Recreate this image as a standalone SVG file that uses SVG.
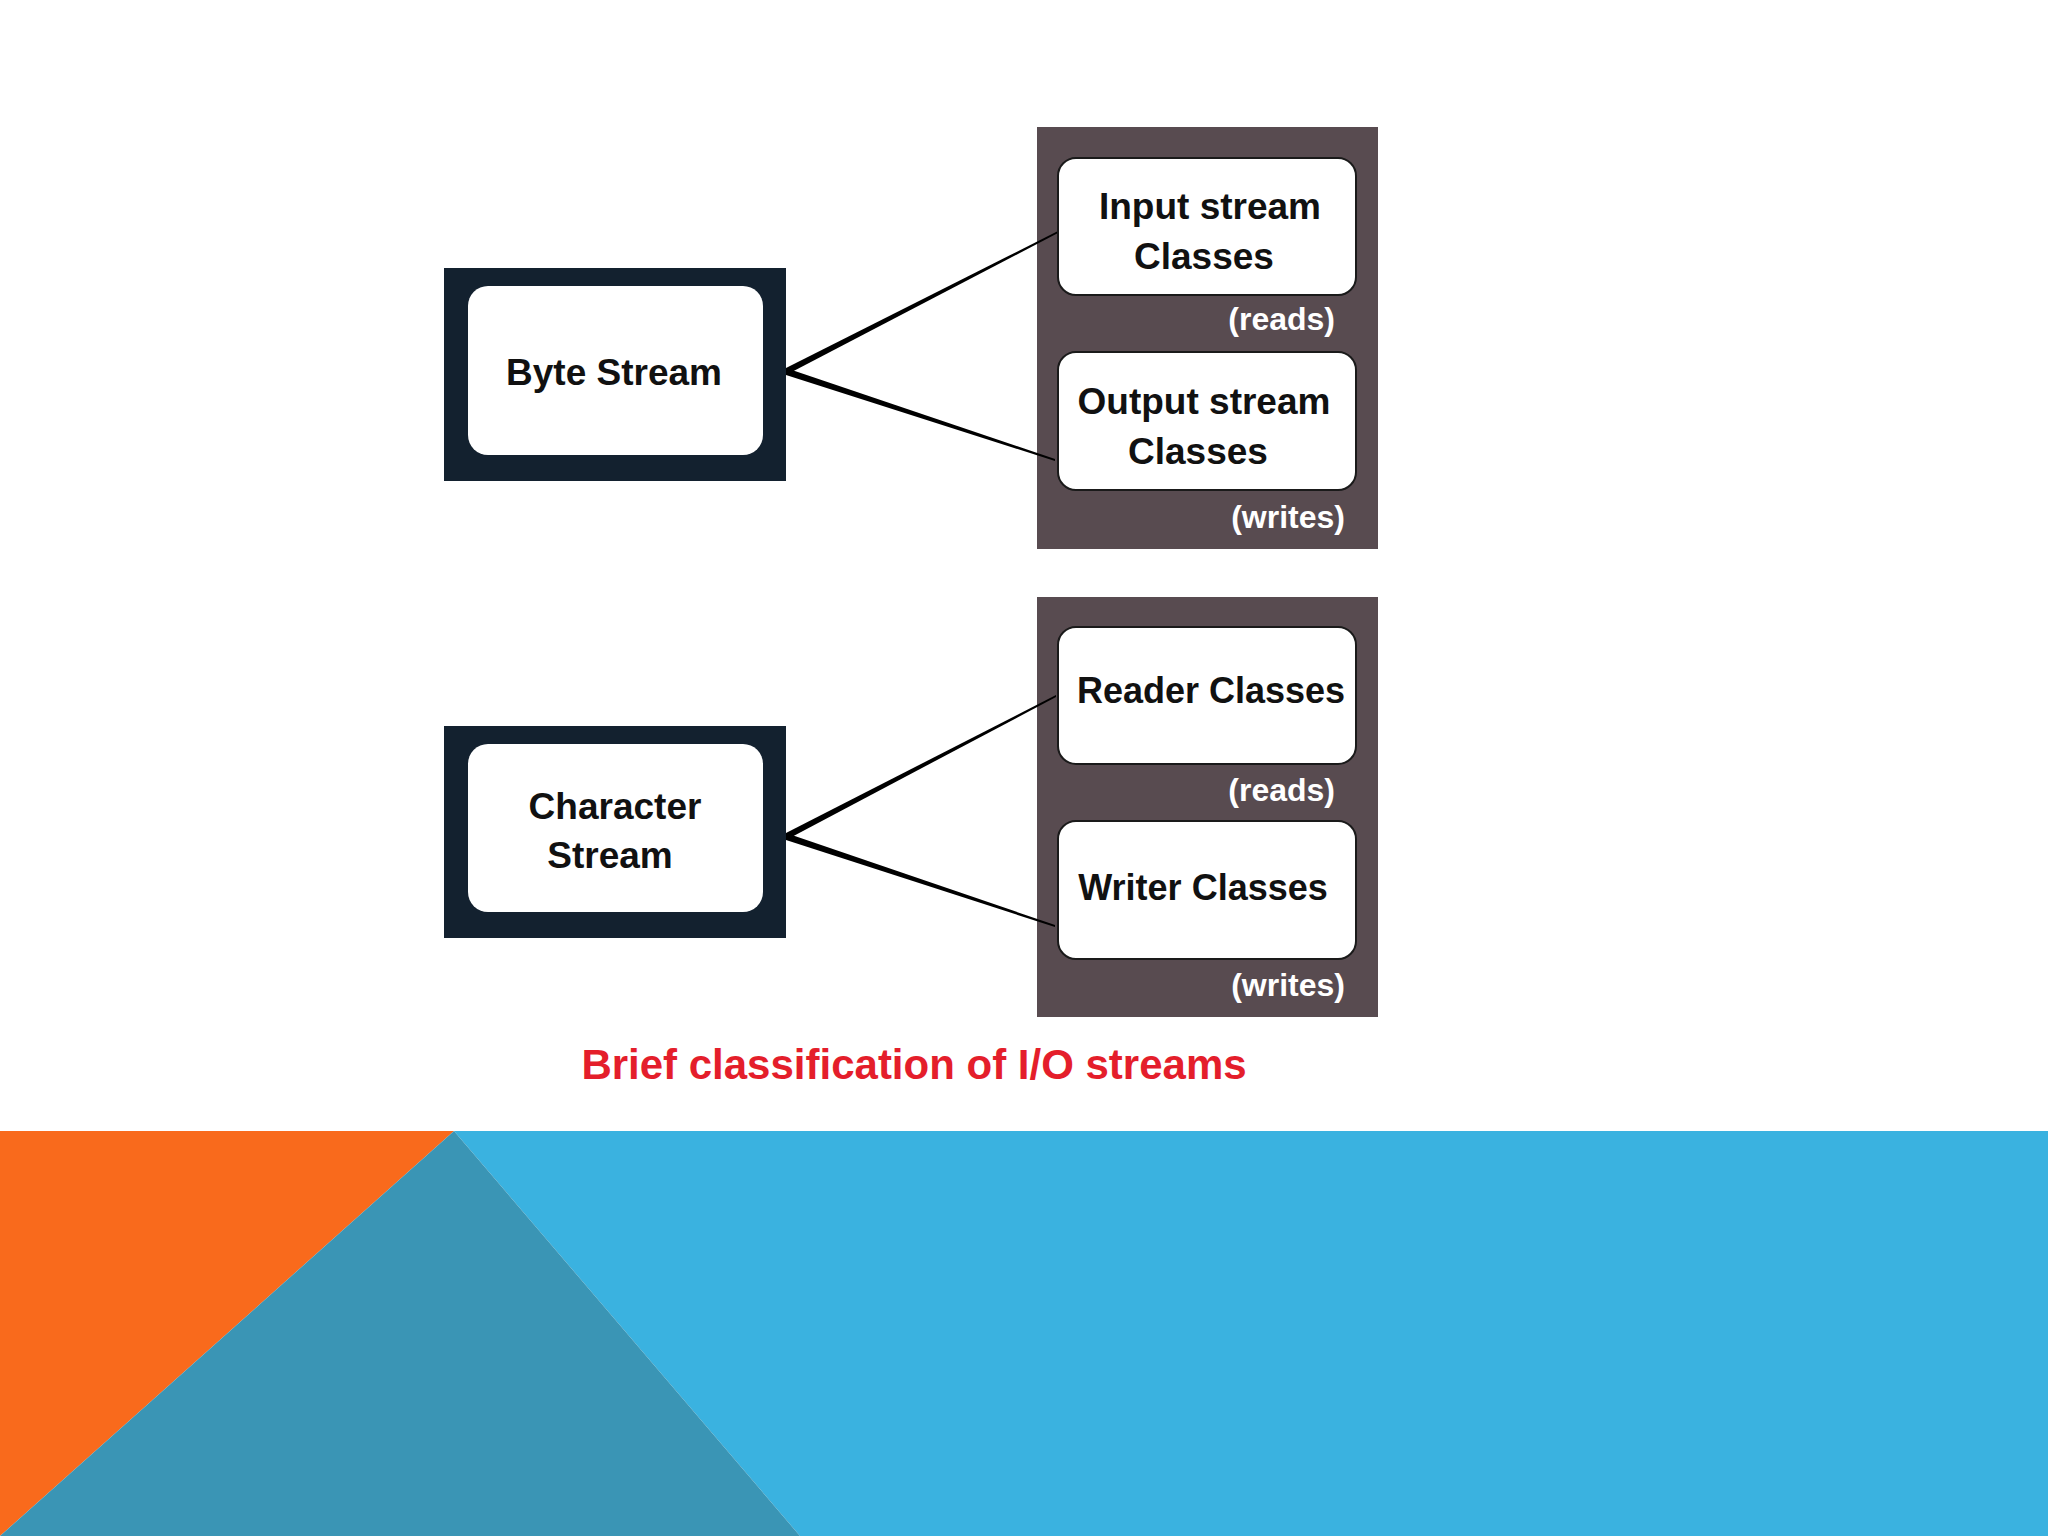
<svg xmlns="http://www.w3.org/2000/svg" width="2048" height="1536" viewBox="0 0 2048 1536">
<style>
.outer{fill:#13212F}
.inner{fill:#FFFFFF}
.panel{fill:#584B50}
.cls{fill:#FFFFFF;stroke:#1A1A1A;stroke-width:2}
.t{font-family:"Liberation Sans",Arial,sans-serif;font-weight:bold;font-size:37px;fill:#111111;text-anchor:middle}
.note{font-family:"Liberation Sans",Arial,sans-serif;font-weight:bold;font-size:32px;fill:#FFFFFF;text-anchor:end}
.cap{font-family:"Liberation Sans",Arial,sans-serif;font-weight:bold;font-size:42px;fill:#E41E2B;text-anchor:middle}
.conn{fill:#000000}
</style>
<rect x="0" y="0" width="2048" height="1536" fill="#FFFFFF"/>
<g id="background">
<polygon points="454,1131 2048,1131 2048,1536 800,1536" fill="#3AB2E0"/>
<polygon points="0,1131 454,1131 0,1536" fill="#F96A1C"/>
<polygon points="454,1131 800,1536 0,1536" fill="#3A95B5"/>
</g>
<g id="byte-panel">
<rect class="panel" x="1037" y="127" width="341" height="422"/>
</g>
<g id="char-panel">
<rect class="panel" x="1037" y="597" width="341" height="420"/>
</g>
<g id="connectors">
<polygon class="conn" points="786,368 1058,231 1058,233 786,375"/>
<polygon class="conn" points="786,368 1055,459 1055,461 786,375"/>
<polygon class="conn" points="786,833 1056,695 1056,697 786,840"/>
<polygon class="conn" points="786,833 1055,925 1055,927 786,840"/>
</g>
<g id="byte-stream">
<rect class="outer" x="444" y="268" width="342" height="213"/>
<rect class="inner" x="468" y="286" width="295" height="169" rx="20"/>
<text class="t" x="614" y="385">Byte Stream</text>
</g>
<g id="character-stream">
<rect class="outer" x="444" y="726" width="342" height="212"/>
<rect class="inner" x="468" y="744" width="295" height="168" rx="20"/>
<text class="t" x="615" y="819">Character</text>
<text class="t" x="610" y="868">Stream</text>
</g>
<g id="input-stream">
<rect class="cls" x="1058" y="158" width="298" height="137" rx="18"/>
<text class="t" x="1210" y="219">Input stream</text>
<text class="t" x="1204" y="269">Classes</text>
<text class="note" x="1335" y="330">(reads)</text>
</g>
<g id="output-stream">
<rect class="cls" x="1058" y="352" width="298" height="138" rx="18"/>
<text class="t" x="1204" y="414">Output stream</text>
<text class="t" x="1198" y="464">Classes</text>
<text class="note" x="1345" y="528">(writes)</text>
</g>
<g id="reader">
<rect class="cls" x="1058" y="627" width="298" height="137" rx="18"/>
<text class="t" x="1211" y="703" style="font-size:36px">Reader Classes</text>
<text class="note" x="1335" y="801">(reads)</text>
</g>
<g id="writer">
<rect class="cls" x="1058" y="821" width="298" height="138" rx="18"/>
<text class="t" x="1203" y="900" style="font-size:36px">Writer Classes</text>
<text class="note" x="1345" y="996">(writes)</text>
</g>
<g id="caption">
<text class="cap" x="914" y="1079">Brief classification of I/O streams</text>
</g>
</svg>
